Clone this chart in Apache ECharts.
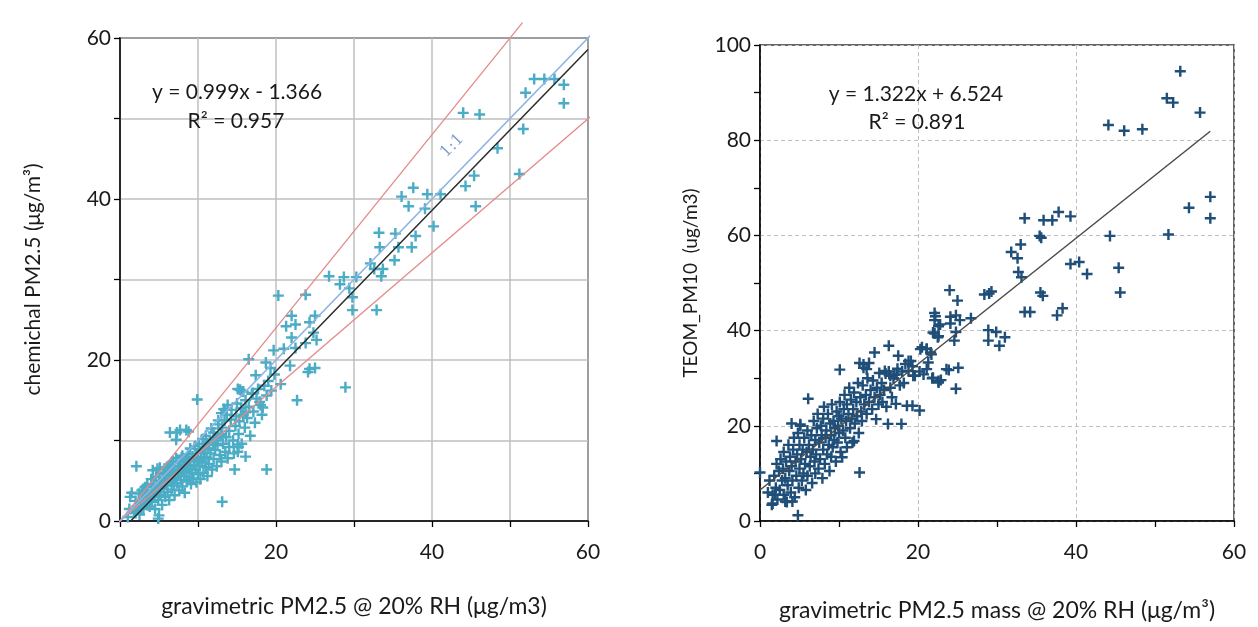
<!DOCTYPE html>
<html><head><meta charset="utf-8">
<script src="https://cdn.jsdelivr.net/npm/echarts@6/dist/echarts.min.js"></script>
<style>html,body{margin:0;padding:0;background:#fff}#c{width:1258px;height:627px}</style>
</head><body><div id="c"></div>
<script>
// ---- Left panel data: gravimetric PM2.5 vs chemical PM2.5 ----
const leftPoints = [
[53.1,54.9],[54.4,54.9],[55.7,54.9],[56.9,54.2],[52.0,53.2],[56.9,51.9],[44.0,50.7],[46.1,50.5],[51.7,48.7],[48.4,46.3],
[51.2,43.1],[45.4,42.9],[44.3,41.6],[45.6,39.1],[37.6,41.4],[36.1,40.3],[39.4,40.6],[41.1,40.6],[37.0,39.1],[39.1,38.8],
[40.2,36.6],[33.2,35.8],[35.3,35.7],[37.9,35.4],[33.3,34.0],[35.7,34.0],[37.4,34.0],[35.2,32.4],[32.1,32.0],[32.6,31.3],
[33.7,31.3],[33.5,30.4],[26.8,30.4],[28.7,30.3],[30.3,30.3],[28.2,29.4],[29.4,28.9],[29.8,27.8],[29.8,26.2],[32.9,26.2],
[20.3,28.0],[23.8,28.1],[22.0,25.5],[22.5,24.4],[25.0,25.5],[24.3,24.7],[24.8,23.4],[21.3,24.2],[22.0,22.8],[23.8,22.1],
[25.2,22.5],[21.0,21.4],[19.7,21.2],[22.5,21.5],[16.5,20.1],[18.7,19.7],[19.3,19.0],[21.8,19.3],[24.3,18.9],[25.0,19.0],
[17.4,18.1],[28.9,16.6],[20.6,17.0],[22.7,15.0],[9.9,15.1],[15.1,16.4],[15.6,16.1],[17.0,15.9],[17.9,14.8],[18.3,14.1],
[13.3,13.9],[13.8,14.4],[16.1,13.5],[18.8,6.4],[13.1,2.4],[5.0,0.7],[2.1,6.8],[6.4,11.0],[7.3,11.0],[8.5,11.3],
[14.7,6.4],[16.1,8.0],[15.1,9.5],[15.1,8.6],[24.1,18.5],[15.4,16.3],[15.8,16.1],[13.5,13.8],[13.0,13.4],[12.6,12.5],
[7.7,11.3],[8.8,11.1],[15.2,9.2],[7.2,10.1],[4.9,0.3],
[1,0.5],[1.2,1.5],[1.5,3.5],[1.3,3.0],[1.8,1.2],[2,2.5],[2.2,1.8],[2.4,3.4],[2.5,0.8],[2.6,2.2],
[2.8,3.8],[3,2.5],[3,1.5],[3.2,4.2],[3.3,3.0],[3.5,2.0],[3.5,4.5],[3.6,3.3],[3.8,1.8],[3.9,2.8],
[4,5.2],[4,3.8],[4.1,2.4],[4.2,6.3],[4.3,4.5],[4.4,3.0],[4.5,1.5],[4.6,5.5],[4.7,3.6],[4.8,6.5],
[4.9,2.6],[5,4.2],[5,5.0],[5.1,6.6],[5.2,3.2],[5.3,4.8],[5.4,2.0],[5.5,5.8],[5.6,4.0],[5.7,6.5],
[5.8,3.0],[5.9,5.2],[6,6.7],[6,4.5],[6.1,3.6],[6.2,5.6],[6.3,2.6],[6.4,6.2],[6.5,4.9],[6.5,7.0],
[6.6,3.9],[6.7,5.8],[6.8,7.4],[6.9,4.4],[7,6.3],[7,3.2],[7.1,5.4],[7.2,7.8],[7.3,4.7],[7.4,6.8],
[7.5,5.9],[7.6,3.8],[7.7,7.3],[7.8,5.1],[7.9,6.4],[8,8.1],[8,4.3],[8.1,7.0],[8.2,5.6],[8.3,3.5],
[8.4,7.6],[8.5,6.2],[8.6,4.9],[8.7,8.3],[8.8,6.8],[8.9,5.4],[9,7.4],[9,9.0],[9.1,4.6],[9.2,6.0],
[9.3,8.0],[9.4,5.2],[9.5,7.0],[9.6,9.3],[9.7,6.4],[9.8,4.8],[9.9,8.4],[10,7.6],[10,5.8],[10.1,9.6],
[10.2,6.8],[10.3,5.2],[10.4,8.6],[10.5,7.3],[10.6,10.2],[10.7,6.0],[10.8,8.0],[10.9,9.2],[11,6.7],[11,10.6],
[11.1,7.8],[11.2,5.6],[11.3,9.0],[11.4,7.1],[11.5,10.0],[11.6,8.4],[11.7,11.5],[11.8,6.4],[11.9,9.6],[12,7.7],
[12,11.0],[12.2,8.8],[12.3,10.3],[12.4,6.8],[12.5,9.4],[12.6,12.0],[12.8,8.2],[12.9,10.8],[13,7.4],[13.1,11.6],
[13.2,9.6],[13.4,12.5],[13.5,8.6],[13.6,10.4],[13.7,13.2],[13.8,7.8],[14,11.2],[14,9.2],[14.2,12.6],[14.3,13.8],
[14.5,10.0],[14.6,8.4],[14.8,11.8],[14.9,13.0],[15,14.6],[15.2,10.8],[15.3,12.4],[15.5,14.0],[15.6,9.6],[15.8,13.2],
[16,11.6],[16.1,15.0],[16.3,12.8],[16.5,14.2],[16.7,10.6],[16.9,15.8],[17.1,13.6],[17.3,12.2],[17.5,15.2],[17.7,16.4],
[18,14.4],[18.2,13.2],[18.5,16.8],[18.8,15.6],[19,17.4],[19.4,16.2],[19.8,18.2],
[2.0,1.0],[2.7,1.6],[3.4,2.6],[4.2,3.4],[5.1,4.0],[5.8,4.8],[6.6,5.2],[7.4,6.1],[8.2,6.6],[9.0,6.4],
[9.8,7.8],[10.6,8.9],[11.4,9.5],[12.2,10.0],[13.0,10.6],[3.1,3.6],[4.0,4.6],[5.6,6.0],[6.2,6.6],[7.9,7.9]
];
const leftFit = [[1.4,0.03],[60,58.57]];
const oneToOne = [[-3,-3],[63.7,63.7]];
const upperBand = [[-4,-4.8],[51.6,61.9]];
const lowerBand = [[-5,-4.17],[62.8,52.3]];
const leftEquation = ['y = 0.999x - 1.366', 'R² = 0.957'];

// ---- Right panel data: gravimetric PM2.5 mass vs TEOM PM10 ----
const rightPoints = [
[53.2,94.5],[51.5,88.8],[52.3,87.9],[55.7,85.8],[44.1,83.2],[46.1,82.0],[48.4,82.3],[57.0,68.1],[54.3,65.8],[57.0,63.6],
[51.7,60.2],[44.3,59.9],[45.4,53.2],[45.6,48.0],[33.5,63.6],[35.9,63.2],[37.0,63.2],[37.8,64.9],[39.3,64.0],[35.4,59.9],
[35.6,59.5],[33.0,58.1],[31.8,56.5],[32.6,55.2],[32.7,52.3],[33.1,51.2],[39.3,54.0],[40.4,54.4],[41.4,51.9],[35.5,48.0],
[35.8,47.3],[33.5,43.9],[34.2,43.9],[38.3,44.7],[37.6,43.2],[29.0,47.8],[28.4,47.6],[29.3,48.2],[28.9,40.1],[29.9,39.7],
[28.9,37.9],[31.0,38.6],[30.3,36.8],[24.0,48.5],[25.0,46.3],[22.1,43.7],[22.1,42.2],[24.1,42.9],[24.8,43.2],[24.1,41.5],
[25.3,42.2],[22.8,41.3],[22.1,39.4],[22.5,38.6],[24.8,39.7],[24.6,37.9],[26.7,42.6],[20.5,36.5],[21.6,35.4],[21.1,36.1],
[23.9,31.7],[25.1,32.2],[21.8,30.0],[22.9,29.6],[22.6,29.1],[24.8,27.8],[20.2,23.2],[16.3,36.8],[17.5,34.7],[14.5,35.4],
[19.1,33.6],[19.3,32.5],[20.2,31.4],[10.1,31.8],[12.6,33.2],[13.8,33.2],[13.1,32.2],[15.1,31.1],[16.3,31.4],[17.0,30.7],
[18.0,31.4],[16.2,20.4],[17.9,20.4],[14.7,21.4],[18.6,24.2],[19.3,24.2],[17.2,24.6],[12.6,10.2],[11.9,16.8],[0,10.2],
[2.1,16.8],[1.6,3.7],[1.9,5.5],[4.8,1.2],[4.1,4.1],[3.2,4.1],[6.1,25.7],[4.0,20.5],[5.1,20.3],[13.1,32.9],
[13.5,31.9],[18.8,33.6],[15.8,31.5],[16.5,30.5],[17.3,30.8],[19.4,30.5],[21.1,31.9],[20.7,30.8],[23.6,31.9],[21.9,30.1],
[22.6,29.4],[22.2,43.0],[22.6,40.9],[21.9,39.6],[22.6,38.8],[20.3,36.1],[21.1,36.2],[21.7,35.0],[21.3,33.3],
[1,6],[1.2,8.5],[1.5,3.4],[1.6,5.5],[1.8,9.5],[2,7],[2.1,12],[2.2,4.5],[2.4,10.5],[2.5,6.5],
[2.6,13],[2.8,8.5],[2.9,11],[3,5.5],[3,14.5],[3.2,9],[3.3,12.5],[3.4,4],[3.5,7.5],[3.6,16],
[3.7,10.5],[3.8,13.5],[3.9,6],[4,11.5],[4.1,8.5],[4.2,15],[4.3,17.5],[4.4,5],[4.5,12.5],[4.6,9.5],
[4.7,14],[4.8,18.5],[4.9,7],[5,11],[5,16],[5.1,20],[5.2,13],[5.3,8.5],[5.4,15],[5.5,10],
[5.6,17.5],[5.7,12],[5.8,6.5],[5.9,14.5],[6,19],[6,9.5],[6.2,16],[6.3,11.5],[6.4,13.5],[6.5,18],
[6.6,8],[6.7,15],[6.8,21],[6.9,12.5],[7,17],[7,10],[7.1,14],[7.2,19.5],[7.3,22.5],[7.4,11],
[7.5,16.5],[7.6,13],[7.7,20],[7.8,18],[7.9,9],[8,15],[8,21.5],[8.1,24],[8.2,12],[8.3,17.5],
[8.4,19],[8.5,14],[8.6,22.5],[8.7,16],[8.8,10.5],[8.9,20.5],[9,18],[9,13.5],[9.1,24.5],[9.2,15.5],
[9.3,21],[9.4,17],[9.5,19.5],[9.6,12.5],[9.7,23],[9.8,16.5],[9.9,20],[10,22],[10,18.5],[10.1,25],
[10.2,14.5],[10.3,21.5],[10.4,13.4],[10.5,19],[10.6,23.5],[10.7,26.5],[10.8,17.5],[10.9,21],[11,24.5],[11,15.5],
[11.2,22.5],[11.3,28],[11.4,19.5],[11.5,25.5],[11.6,21.5],[11.7,16.5],[11.8,23.5],[11.9,27],[12,20.5],[12.2,25],
[12.3,22],[12.4,29],[12.5,18.5],[12.7,26],[12.8,23],[12.9,21],[13,28.5],[13.2,24.5],[13.4,26.5],[13.5,22.5],
[13.6,30],[13.8,25],[14,27.5],[14.2,23.5],[14.3,29.5],[14.5,26],[14.8,28],[15,24.5],[15.2,26.5],[15.4,29],
[15.5,25],[15.7,27.5],[15.9,31],[16,24],[16.5,28],[16.7,26],[16.9,30],[17.4,32],[17.7,28.5],[18.2,29],
[18.4,33],[18.8,31.5],[19.6,30.5]
];
const rightFit = [[0,6.52],[57,81.88]];
const rightEquation = ['y = 1.322x + 6.524', 'R² = 0.891'];

const PLUS = 'path://M3.9,0h2.2v3.9h3.9v2.2h-3.9v3.9h-2.2v-3.9h-3.9v-2.2h3.9z';
const FONT = 'Lato';
const TXT = '#1a1a1a';

const chart = echarts.init(document.getElementById('c'), null, {renderer:'canvas'});

function axisCommon(extra){
  return Object.assign({
    type:'value',
    axisLine:{show:true,onZero:false,lineStyle:{color:'#000',width:1.5}},
    axisTick:{show:true,inside:false,length:6,lineStyle:{color:'#000',width:1.3}},
    nameLocation:'middle',
    nameTextStyle:{color:TXT,fontFamily:FONT,fontSize:23}
  }, extra);
}
const tickFont = {color:TXT,fontFamily:FONT,fontSize:21};

const option = {
  animation:false,
  backgroundColor:'#fff',
  grid:[
    {left:120,top:38,width:468,height:483,show:true,borderColor:'#000',borderWidth:1.5,backgroundColor:'transparent'},
    {left:760,top:45,width:474,height:477,show:true,borderColor:'#333',borderWidth:1.5,backgroundColor:'transparent'}
  ],
  xAxis:[
    axisCommon({gridIndex:0,min:0,max:60,interval:10,name:'gravimetric PM2.5 @ 20% RH (μg/m3)',nameGap:74,
      axisLabel:Object.assign({margin:21,formatter:v=>v%20===0?String(v):''},tickFont),
      splitLine:{show:true,lineStyle:{color:'#BFBFBF',width:1.5}}}),
    axisCommon({gridIndex:1,min:0,max:60,interval:20,name:'gravimetric PM2.5 mass @ 20% RH (μg/m³)',nameGap:78,
      axisLabel:Object.assign({margin:21},tickFont),
      minorTick:{show:true,splitNumber:2,length:6,lineStyle:{color:'#000',width:1.3}},
      splitLine:{show:true,lineStyle:{color:'#BFBFBF',width:1,type:[4,3]}}})
  ],
  yAxis:[
    axisCommon({gridIndex:0,min:0,max:60,interval:10,name:'chemichal PM2.5 (μg/m³)',nameGap:76,
      nameTextStyle:{color:TXT,fontFamily:FONT,fontSize:21},
      axisLabel:Object.assign({margin:9,formatter:v=>v%20===0?String(v):''},tickFont),
      splitLine:{show:true,lineStyle:{color:'#BFBFBF',width:1.5}}}),
    axisCommon({gridIndex:1,min:0,max:100,interval:20,name:'TEOM_PM10  (ug/m3)',nameGap:60,
      nameTextStyle:{color:TXT,fontFamily:FONT,fontSize:19},
      axisLabel:Object.assign({margin:9},tickFont),
      minorTick:{show:true,splitNumber:2,length:6,lineStyle:{color:'#000',width:1.3}},
      splitLine:{show:true,lineStyle:{color:'#BFBFBF',width:1,type:[4,3]}}})
  ],
  series:[
    {type:'scatter',xAxisIndex:0,yAxisIndex:0,data:leftPoints,symbol:PLUS,symbolSize:11,
      itemStyle:{color:'#4BACC6',opacity:1},z:2},
    {type:'line',xAxisIndex:0,yAxisIndex:0,data:upperBand,clip:false,symbol:'none',
      lineStyle:{color:'#E48A8B',width:1.3},z:3},
    {type:'line',xAxisIndex:0,yAxisIndex:0,data:lowerBand,clip:false,symbol:'none',
      lineStyle:{color:'#E48A8B',width:1.3},z:3},
    {type:'line',xAxisIndex:0,yAxisIndex:0,data:oneToOne,clip:false,symbol:'none',
      lineStyle:{color:'#8EB4E3',width:1.6},z:3},
    {type:'line',xAxisIndex:0,yAxisIndex:0,data:leftFit,clip:false,symbol:'none',
      lineStyle:{color:'#2b2b2b',width:1.5},z:4},
    {type:'scatter',xAxisIndex:0,yAxisIndex:0,data:[[42.6,46.6]],symbolSize:0,silent:true,z:5,
      label:{show:true,formatter:'1:1',rotate:46,color:'#5E85C4',fontFamily:'DejaVu Serif',fontSize:16,position:'inside'}},
    {type:'scatter',xAxisIndex:1,yAxisIndex:1,data:rightPoints,symbol:PLUS,symbolSize:11,
      itemStyle:{color:'#1F4E79',opacity:1},z:2},
    {type:'line',xAxisIndex:1,yAxisIndex:1,data:rightFit,symbol:'none',
      lineStyle:{color:'#4a4a4a',width:1.5},z:4}
  ],
  graphic:[
    {type:'text',x:237,y:92,style:{text:leftEquation[0],fill:TXT,font:'21px '+FONT,align:'center',verticalAlign:'middle'},z:10},
    {type:'text',x:236,y:121,style:{text:leftEquation[1],fill:TXT,font:'21px '+FONT,align:'center',verticalAlign:'middle'},z:10},
    {type:'text',x:916,y:94,style:{text:rightEquation[0],fill:TXT,font:'21px '+FONT,align:'center',verticalAlign:'middle'},z:10},
    {type:'text',x:917,y:122,style:{text:rightEquation[1],fill:TXT,font:'21px '+FONT,align:'center',verticalAlign:'middle'},z:10}
  ]
};
chart.setOption(option);
</script></body></html>
